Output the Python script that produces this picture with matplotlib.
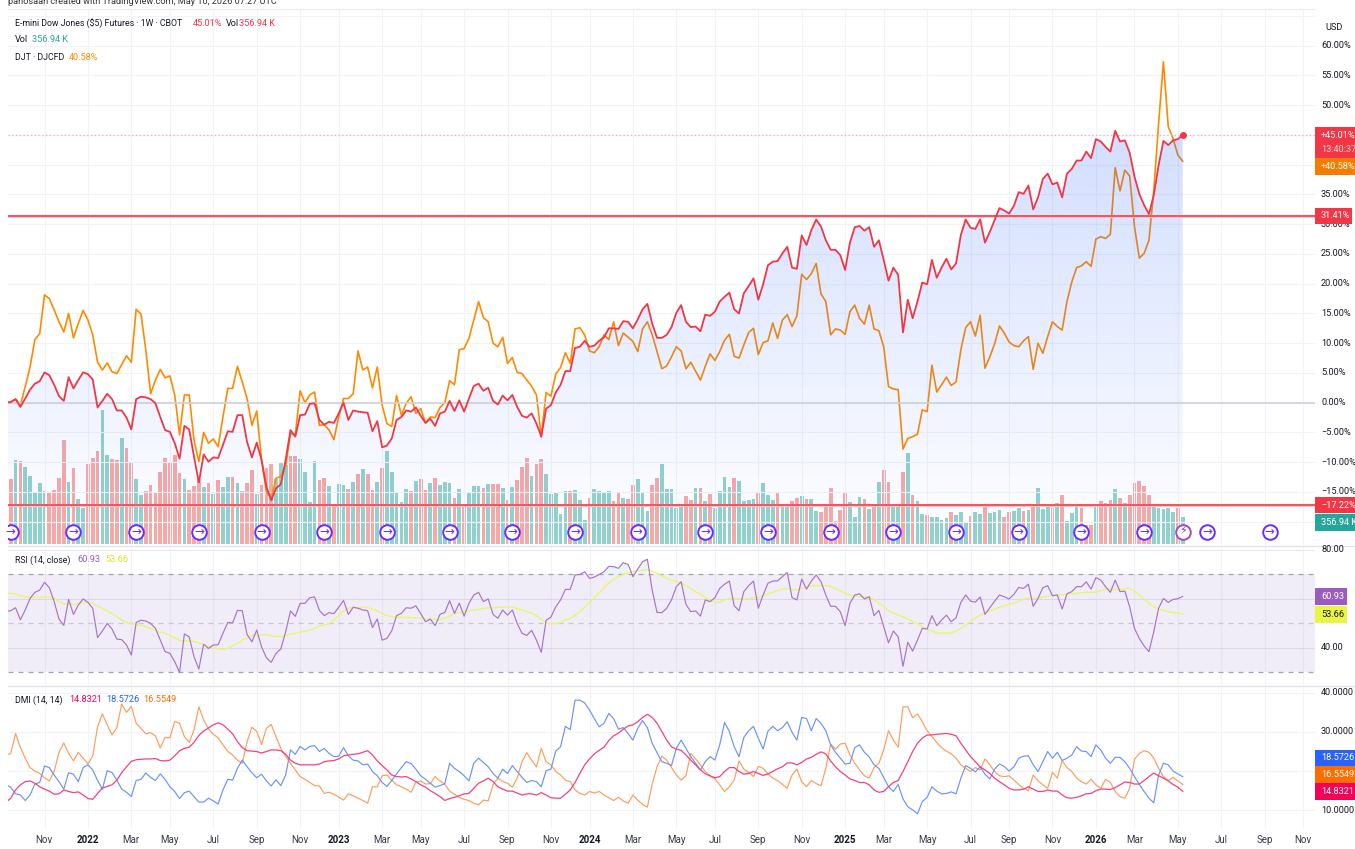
import numpy as np
import pandas as pd
import matplotlib
matplotlib.use("Agg")
import matplotlib.pyplot as plt
import matplotlib.dates as mdates
from matplotlib.patches import Rectangle
from matplotlib.lines import Line2D

plt.rcParams['font.family'] = ['Roboto', 'DejaVu Sans']

W, H = 1355, 849

# weekly closes in percent, first visible bar is the base
es_pct = [0.0,
    0.1,0.6,-0.7,0.7,2.2,3.2,3.6,5.1,4.6,3.0,1.1,0.3,4.3,2.4,3.8,5.1,4.8,3.9,-0.8,0.3,1.5,0.6,-1.3,-1.3,-2.5,-4.5,0.6,1.0,0.9,0.6,
    -0.1,-2.4,-4.6,-4.9,-6.8,-9.4,-3.9,-4.5,-9.1,-13.4,-8.7,-9.9,-9.2,-9.3,-7.1,-4.8,-4.9,-2.1,-2.1,-6.6,-9.2,-6.7,-9.6,-14.1,-16.4,-14.4,-13.7,-9.6,-4.6,-5.7,
    -2.1,-2.0,-0.2,-0.1,-2.9,-3.7,-3.2,-3.4,-1.8,0.0,-2.9,-1.3,-1.5,-1.6,-1.7,-4.8,-3.1,-7.5,-7.2,-6.0,-2.9,-2.4,-1.3,-1.5,-0.8,-2.2,-3.4,-2.7,-3.9,-1.8,-1.5,0.3,
    -1.4,0.4,-1.5,0.7,2.8,3.2,2.0,2.5,0.3,-0.3,1.2,0.4,1.3,-0.7,-2.2,-2.5,-1.8,-3.5,-5.7,-1.0,-0.4,1.7,3.0,5.3,5.3,9.2,9.4,10.4,9.4,9.6,10.4,11.0,12.5,12.5,12.4,13.7,
    13.6,12.5,14.0,15.7,16.6,13.3,10.9,10.9,11.4,12.7,15.1,16.4,13.6,12.7,12.8,12.0,14.8,14.6,15.3,17.0,17.8,18.5,15.7,15.0,18.4,19.6,20.9,17.3,19.9,23.1,23.7,23.8,
    25.1,26.2,22.7,22.5,28.1,26.5,29.0,30.8,29.6,27.3,25.7,25.7,24.8,22.3,26.9,29.5,29.7,28.9,29.5,26.2,27.3,24.0,20.5,22.7,21.5,
    11.8,17.3,14.2,17.0,20.2,19.9,24.0,21.0,22.7,24.2,22.4,23.4,28.2,30.8,29.4,29.2,30.8,26.9,28.7,30.7,32.7,32.3,31.8,33.1,35.4,35.1,36.5,32.5,34.5,37.6,38.5,36.7,37.0,34.5,
    38.5,39.3,40.7,40.7,42.2,41.1,44.3,43.9,43.0,42.2,45.7,43.9,44.1,42.0,38.0,35.1,33.2,31.7,34.9,39.9,44.0,43.3,44.1,44.3,45.01]

djt_pct = [0.0,
    0.1,0.6,-0.4,2.7,6.0,10.6,11.6,18.1,17.5,15.6,13.6,11.9,15.0,10.9,13.3,15.5,13.9,11.4,6.8,5.5,6.7,5.2,4.9,6.4,7.9,6.8,15.7,14.9,8.9,1.5,
    3.8,5.6,4.2,4.5,1.3,-5.4,1.3,1.3,-6.3,-9.9,-5.0,-6.8,-6.1,-7.4,-2.4,2.4,2.4,6.1,3.5,0.7,-3.8,-1.4,-9.6,-14.9,-16.1,-12.7,-12.4,-10.7,-5.2,-5.4,
    2.0,0.0,1.3,1.8,-3.8,-3.7,-4.6,-6.2,-2.4,0.7,0.7,1.5,8.7,5.5,6.0,2.5,6.0,-0.4,-3.5,-4.0,1.2,-2.1,-0.1,1.0,-1.8,-1.0,-3.4,-2.4,-2.5,-0.8,0.0,3.7,
    3.0,8.9,9.1,10.8,13.9,17.0,14.3,13.6,10.0,9.4,11.0,6.6,7.6,5.1,4.9,3.8,2.8,1.3,-5.7,1.7,1.1,4.8,5.9,8.4,6.6,12.4,12.6,11.4,8.7,8.4,9.4,11.4,10.6,13.6,9.6,11.7,
    11.0,10.3,8.6,12.4,13.6,11.4,8.6,5.7,6.2,7.7,9.4,8.7,5.7,6.8,5.3,3.8,6.1,8.2,7.1,8.6,10.5,11.5,7.8,7.5,9.7,11.8,12.5,8.1,10.1,10.4,13.4,10.8,13.9,14.8,12.8,14.6,
    21.6,20.7,21.7,23.4,18.3,17.0,11.4,12.4,12.2,11.5,15.3,16.4,14.2,13.2,16.4,12.4,12.1,9.4,2.7,2.3,2.2,
    -7.8,-6.0,-5.7,-5.3,-1.2,-1.5,6.3,1.8,3.0,4.3,2.9,3.5,8.9,12.6,13.6,11.2,14.7,5.8,7.7,9.9,12.9,11.7,10.2,9.6,9.4,10.4,11.1,5.6,10.0,8.3,11.1,13.6,12.8,12.2,
    17.0,20.3,22.7,23.0,23.7,22.9,27.5,27.9,27.6,28.3,39.5,35.6,39.1,38.1,29.6,24.3,25.1,27.3,35.7,46.9,57.3,46.4,44.4,41.6,40.58]

# volume in thousands, with r/g for the bar colour
volume_k = [800,
    858,1109,1091,1016,898,691,810,695,678,717,871,1377,823,1003,590,475,1056,1131,1223,1764,1170,1118,1109,1404,1272,1082,858,642,695,783,
    678,950,1131,1069,1170,942,858,717,770,858,757,810,656,845,757,884,884,810,695,810,977,656,783,1003,1056,858,1082,1043,1162,1162,
    1122,950,550,1096,845,871,770,488,796,783,730,823,924,990,924,708,823,1003,1223,950,669,550,730,695,836,858,708,810,871,783,823,810,
    607,726,515,673,761,761,739,788,788,788,739,585,748,849,1021,1135,902,1060,1122,928,660,682,400,695,695,713,585,321,607,726,695,669,695,572,682,607,
    594,783,862,682,440,783,876,1056,722,722,471,506,629,585,735,735,572,660,480,695,889,748,876,836,572,585,598,682,810,647,585,673,519,519,572,607,
    634,594,594,440,427,519,735,308,453,682,559,361,620,594,466,519,823,981,823,519,519,
    950,1201,647,568,400,387,361,361,321,348,427,387,427,282,374,427,400,510,414,427,453,361,427,440,480,440,453,506,735,466,493,480,541,647,
    299,414,506,480,255,255,506,568,541,581,722,607,541,647,810,836,761,647,506,480,466,480,427,480,356.94]

volume_dir = list("r"
    "rgrgggggrr" "rrgrggrrrg" "grrgrrggrr" "rrrrrrgrrr" "grgrggrgrr" "rgrrrgggrr" "ggggrrgrgg" "rgrgrrgrgg" "gggrgrrgrg" "gg"
    "rgrgggrg" "rrgrgrrrgr" "rgggggrggg" "rggggrrgrr" "gggrrggggg" "rrgrgrgggg" "rggggrgggr" "ggrrgrggrr" "rrrrgggrgr" "grrgg"
    "rgrgg" "rggggrgggr" "ggrgggrrgg" "rgrgggrgrg" "ggrrrgrrrg" "rgrrrrrggg" "ggrg")

rsi = [54.8,
    55.1,56.3,51.4,55.4,60.1,62.6,63.5,66.7,64.5,58.8,51.7,49.1,59.7,53.6,57.4,59.9,58.5,56.1,44.1,46.8,49.9,47.6,43.5,43.3,41.1,37.0,50.3,51.2,50.9,49.9,
    47.9,43.1,38.4,37.7,34.3,29.9,45.6,44.4,36.3,31.3,41.4,39.7,41.1,41.2,45.9,50.3,50.1,55.2,55.1,45.4,42.4,47.2,40.4,35.9,34.0,37.7,39.5,46.5,55.0,52.8,
    58.1,58.1,60.4,60.7,55.2,53.1,54.3,53.9,56.5,59.3,53.6,56.5,56.1,55.4,55.1,48.2,51.7,43.1,43.8,46.9,53.1,54.0,56.3,56.1,57.1,53.9,50.6,51.7,49.0,53.6,54.4,59.2,
    54.0,58.2,52.9,58.1,61.5,62.6,58.8,59.9,53.6,52.0,55.4,53.3,55.4,49.9,45.9,45.0,47.1,43.1,38.1,51.2,52.5,56.7,59.5,63.8,63.8,69.7,69.9,71.0,68.3,68.8,69.9,71.0,73.2,73.1,72.4,74.7,
    74.0,69.0,72.1,75.1,76.1,63.5,54.4,54.3,56.1,59.5,64.9,66.9,57.7,54.7,55.0,52.9,59.5,58.8,60.4,64.2,65.9,67.2,57.1,55.1,62.9,65.3,67.2,56.1,61.5,66.3,67.2,67.3,
    69.0,70.7,60.4,59.5,68.0,63.9,67.2,69.7,66.9,61.5,56.9,56.9,54.7,49.0,58.1,61.5,62.0,59.9,60.8,53.1,55.2,48.6,42.0,46.8,44.5,
    32.4,42.2,38.6,43.1,47.9,47.6,53.1,49.0,51.3,53.3,50.6,52.2,58.5,61.5,59.0,58.6,60.7,53.6,56.3,59.0,61.5,60.8,59.9,61.8,64.6,64.2,65.9,56.9,60.1,64.5,65.3,61.2,61.5,55.8,
    62.0,62.9,64.9,64.9,66.9,63.9,68.6,67.6,64.9,62.6,67.6,62.9,63.1,56.7,47.9,43.8,40.7,38.4,46.5,56.1,60.1,58.5,59.7,60.0,60.93]

rsi_ma = [62.2,
    62.2,62.0,61.2,60.8,60.5,60.5,60.5,60.7,60.7,60.1,58.8,58.0,57.7,57.7,58.0,58.4,58.6,58.1,57.0,56.1,55.0,53.9,52.7,51.3,50.3,49.8,49.4,49.1,48.6,47.9,
    47.1,46.3,45.9,45.0,44.1,42.9,42.7,42.7,42.6,42.0,41.2,40.5,40.1,39.5,39.2,39.7,40.7,41.8,43.0,44.2,44.9,45.0,45.2,45.3,44.9,44.6,44.6,44.9,45.6,45.9,
    46.4,46.7,47.1,47.9,48.8,49.3,49.8,51.3,53.1,55.1,56.1,56.5,56.3,56.5,56.3,55.8,55.0,53.9,53.1,52.7,52.4,52.4,52.4,52.2,52.2,52.1,51.7,51.6,51.4,51.4,52.0,52.9,
    54.0,54.3,54.6,55.0,55.4,55.6,56.1,56.2,56.3,56.5,56.6,56.6,56.5,55.9,55.4,54.7,54.1,53.1,51.6,50.3,49.8,49.8,50.3,51.2,52.0,53.1,54.7,56.6,58.5,60.4,62.4,64.5,66.5,67.9,69.0,69.9,
    70.5,71.0,71.4,71.7,71.8,71.2,70.3,69.4,68.4,67.6,67.1,66.5,65.4,64.1,62.9,61.8,60.4,59.3,58.5,58.6,59.5,60.1,60.1,60.0,59.9,60.1,60.4,60.5,61.2,62.0,62.6,63.3,
    63.9,64.1,63.8,63.7,64.1,64.8,65.2,65.3,65.4,65.4,64.9,64.2,63.3,62.2,61.5,61.1,60.8,60.7,60.7,59.7,58.1,56.9,55.1,54.1,53.3,
    52.7,51.7,50.7,49.8,48.4,47.6,46.8,46.1,45.9,45.9,46.1,46.8,47.9,49.1,50.9,52.0,53.3,54.1,55.0,55.8,56.5,57.1,57.7,58.2,59.0,59.9,60.4,60.1,60.3,60.7,61.0,61.4,61.6,61.5,
    61.8,61.9,62.2,62.4,62.6,62.6,62.7,63.3,63.9,63.8,63.8,63.8,64.1,64.2,63.1,61.5,59.7,58.1,56.7,55.9,55.2,54.7,54.3,54.1,53.66]

dmi_adx = [12.0,
    13.1,15.2,16.5,17.3,17.5,16.9,16.0,15.4,14.9,14.1,14.2,15.2,14.8,14.5,14.7,13.9,13.0,12.8,14.3,15.7,16.1,16.5,17.7,19.6,21.1,22.5,22.9,23.0,23.1,23.1,
    23.2,22.7,22.6,22.8,23.9,25.2,25.8,26.1,27.3,29.1,30.2,31.0,31.8,32.3,31.8,30.7,29.5,27.5,26.0,25.2,25.1,25.0,24.6,25.0,25.4,25.4,25.2,24.3,22.8,22.0,
    21.6,21.6,21.6,21.6,21.8,22.4,22.6,22.7,23.1,23.9,24.1,24.3,24.4,24.8,25.2,24.1,22.6,21.4,20.3,19.0,18.6,18.5,18.6,18.0,17.3,16.5,15.9,15.0,14.3,13.5,12.5,13.0,
    13.3,13.7,14.2,14.3,15.6,16.9,17.5,18.2,17.3,16.0,15.4,14.9,14.9,14.4,13.9,14.2,14.2,13.9,14.5,13.9,13.2,13.1,13.1,14.1,15.2,17.1,19.4,21.6,23.1,24.4,25.3,26.1,27.8,29.0,29.7,30.7,
    31.5,31.8,32.6,33.7,34.5,33.7,32.2,30.1,27.9,26.2,25.6,25.3,24.1,22.8,21.6,20.3,19.3,18.8,18.3,18.6,19.9,20.9,20.9,19.9,19.2,19.4,19.9,19.4,18.9,19.3,19.9,20.6,
    21.1,22.1,22.1,21.6,22.2,23.1,23.5,24.3,24.9,24.4,22.6,21.1,19.9,19.0,18.0,17.6,17.1,17.1,16.5,15.2,14.6,14.8,16.0,17.1,17.6,
    19.9,22.4,25.0,27.1,28.4,29.2,29.2,29.4,29.5,29.6,29.4,29.0,27.1,25.4,23.7,22.4,21.1,20.3,19.4,18.2,17.3,16.5,15.6,15.2,15.2,15.4,16.0,15.4,14.8,14.8,15.2,14.9,14.9,13.9,
    13.2,13.1,13.3,13.7,14.2,14.3,15.0,15.4,15.4,15.3,15.8,16.5,17.2,17.1,16.7,16.7,17.6,18.6,19.5,18.8,18.2,17.5,16.6,15.9,14.8321]

dmi_plus = [16.5,
    15.9,14.2,13.9,12.5,13.9,16.7,17.1,21.3,20.9,19.0,17.3,15.4,19.6,19.2,17.3,20.9,21.6,20.3,17.6,15.4,20.1,19.6,17.7,15.4,14.6,13.5,17.6,17.9,19.5,18.4,
    17.6,19.3,17.9,16.0,14.8,13.0,14.5,14.9,13.5,12.1,12.1,13.1,12.4,11.6,15.2,17.9,17.7,20.7,22.8,21.1,19.6,18.3,19.2,17.5,16.2,17.8,16.3,19.0,25.4,24.3,
    26.3,25.4,26.3,26.5,25.0,25.8,24.5,23.7,23.8,26.0,23.9,22.8,22.6,21.6,21.8,19.9,18.8,17.1,16.1,17.6,19.3,20.9,22.4,21.9,20.5,18.8,17.9,16.9,15.9,16.3,16.8,22.0,
    20.7,19.9,18.8,17.5,22.0,23.3,22.2,21.1,19.4,18.2,20.5,19.4,21.4,19.9,18.4,17.1,17.6,17.3,16.0,20.1,20.5,25.1,26.2,31.4,30.6,38.1,38.1,37.4,35.6,33.4,31.3,32.2,34.7,33.4,30.7,31.1,
    29.6,27.9,30.9,32.9,31.1,27.1,24.7,22.4,22.0,21.4,25.8,27.9,25.8,23.7,22.0,20.3,22.4,23.7,22.8,26.7,32.4,30.1,26.2,23.7,28.6,30.3,31.4,28.4,25.6,30.2,31.4,30.3,
    31.1,32.6,29.9,27.9,33.7,33.4,30.3,33.4,32.2,30.3,26.7,24.8,23.3,21.8,22.0,26.0,26.7,24.8,23.6,21.6,20.7,18.4,16.0,14.8,16.6,
    12.9,10.9,10.1,9.1,12.2,13.3,16.0,14.9,14.2,14.3,14.7,14.2,18.2,21.4,20.7,19.8,21.1,19.2,18.0,20.5,21.8,21.2,20.0,21.1,23.3,23.8,23.9,21.6,19.9,22.4,25.0,23.3,24.8,22.7,
    23.3,24.1,26.2,25.1,25.0,23.7,26.7,25.4,23.3,22.0,23.5,23.5,22.4,20.7,18.6,16.6,14.8,13.1,11.9,19.0,22.0,21.6,20.0,19.3,18.5726]

dmi_minus = [24.0,
    24.5,29.6,26.0,23.3,20.9,20.0,19.4,18.3,17.5,19.9,24.8,27.2,24.5,22.6,24.8,23.3,21.8,23.9,31.3,34.6,31.8,29.2,31.1,37.1,35.0,36.5,32.2,30.9,29.5,29.8,
    29.0,25.9,28.6,28.5,32.7,32.2,28.8,27.3,30.5,36.4,33.0,30.8,29.4,28.5,26.7,25.0,24.1,22.8,22.0,27.5,31.2,30.1,26.8,30.9,31.9,28.8,25.8,23.8,22.0,20.3,
    18.6,17.9,17.1,16.3,16.2,14.3,14.6,14.1,13.4,12.6,14.2,13.7,13.1,12.5,11.8,16.0,16.0,18.8,19.0,17.7,16.5,16.0,15.4,14.6,17.1,17.5,16.7,16.8,18.6,17.5,16.6,14.9,
    14.1,13.3,12.8,12.5,11.8,11.4,12.6,12.4,16.5,18.2,17.3,16.9,15.9,18.2,22.4,24.7,22.8,21.1,25.8,22.4,21.6,19.9,19.0,17.7,17.3,15.2,14.3,13.9,14.8,14.4,14.8,13.9,13.2,12.5,13.3,12.4,
    11.8,13.9,12.6,11.5,10.8,16.7,21.1,23.8,22.8,20.9,19.0,17.7,18.8,24.5,23.1,21.6,19.9,18.8,18.0,16.5,14.8,16.0,17.7,22.6,20.5,19.7,18.6,21.2,20.7,19.3,18.2,17.6,
    16.6,15.6,19.0,20.5,17.3,16.0,17.6,16.8,16.3,20.7,26.9,25.6,26.9,27.1,24.1,22.0,20.3,18.8,18.2,20.9,22.0,25.4,30.3,27.9,26.1,
    36.4,36.4,33.6,34.6,32.6,30.3,28.8,27.3,26.0,25.1,24.4,23.3,21.6,20.7,19.9,20.9,20.3,23.1,21.6,19.9,18.8,18.6,18.8,17.7,16.6,15.6,15.0,19.0,17.5,16.5,15.6,19.7,18.2,22.7,
    20.9,19.9,18.2,17.3,16.7,17.9,16.5,15.6,17.9,17.1,14.8,13.5,13.1,15.6,23.0,24.5,25.2,24.8,23.3,20.7,18.6,17.6,18.4,17.5,16.5549]

# quarterly contract rolls, as week numbers after the 2021-09-13 bar
roll_weeks = [0,13,26,39,52,65,78,91,104,117,130,144,157,170,183,196,209,222,235,248,261]

tick_dates = ["2021-11-01","2022-01-03","2022-03-07","2022-05-02","2022-07-04","2022-09-05","2022-11-07",
    "2023-01-02","2023-03-06","2023-05-01","2023-07-03","2023-09-04","2023-11-06","2024-01-01","2024-03-04",
    "2024-05-06","2024-07-01","2024-09-02","2024-11-04","2025-01-06","2025-03-03","2025-05-05","2025-07-07",
    "2025-09-01","2025-11-03","2026-01-05","2026-03-02","2026-05-04","2026-07-06","2026-09-07","2026-11-02"]
tick_labels = ["Nov","2022","Mar","May","Jul","Sep","Nov","2023","Mar","May","Jul","Sep","Nov","2024","Mar",
    "May","Jul","Sep","Nov","2025","Mar","May","Jul","Sep","Nov","2026","Mar","May","Jul","Sep","Nov"]

main_ticks = [60,55,50,35,30,25,20,15,10,5,0,-5,-10,-15]
rsi_ticks = [80,40]
dmi_ticks = [40,30,10]

dates = pd.date_range("2021-09-06", periods=len(es_pct), freq="7D")
ticks = pd.to_datetime(tick_dates)
x_left, x_right = pd.Timestamp("2021-09-09"), pd.Timestamp("2026-11-19")

TEAL, PINK, ORANGE = "#26a69a", "#f23645", "#f57c00"
GRID, TXT = "#f2f3f7", "#131722"
PURPLE, YELLOW = "#9c5bbf", "#e9f542"
D_PINK, D_BLUE, D_ORANGE = "#f50057", "#2962ff", "#ff6d00"
NUM = 6.6


def add_pane(top, bottom):
    a = fig.add_axes([8 / W, 1 - bottom / H, 1307 / W, (bottom - top) / H])
    for s in a.spines.values():
        s.set_visible(False)
    a.patch.set_alpha(0)
    a.set_xlim(x_left, x_right)
    a.set_xticks(ticks)
    a.set_xticklabels([])
    a.tick_params(length=0, labelleft=False, left=False)
    a.grid(axis="x", color=GRID, lw=0.8)
    a.set_axisbelow(True)
    return a


def label(x, y, s, color=TXT, size=NUM, ha="left", weight="normal", **kw):
    fig.text(x / W, 1 - y / H, s, color=color, fontsize=size, ha=ha, va="center", fontweight=weight, **kw)


def tag(y0, y1, s, color, x1=1355, tcolor="white"):
    fig.add_artist(Rectangle((1315 / W, 1 - y1 / H), (x1 - 1315) / W, (y1 - y0) / H,
                             transform=fig.transFigure, color=color, lw=0, zorder=5))
    if s:
        label(1321, (y0 + y1) / 2, s, color=tcolor, zorder=6)


fig = plt.figure(figsize=(W / 100, H / 100), dpi=100)

# main pane with volume behind it
ax_vol = add_pane(9, 545)
ax = add_pane(9, 545)
ax.set_zorder(ax_vol.get_zorder() + 1)
ax.set_ylim((402.7 - 545) / 5.95, (402.7 - 9) / 5.95)
ax.set_yticks(main_ticks + [65, 45, 40, -20])
ax.grid(axis="y", color=GRID, lw=0.8)
ax_vol.set_ylim(-13, 536 * 13.2 - 13)
ax_vol.grid(False)
ax_vol.bar(dates, volume_k, width=5.4,
           color=["#92d2cd" if d == "g" else "#f7a9a7" for d in volume_dir], zorder=2)

ax.plot(dates, djt_pct, color="#ff8a00", lw=1.2, zorder=2)

# blue gradient under the price line, on top of the orange one
grad = np.zeros((256, 1, 4))
grad[:, 0, 0], grad[:, 0, 1], grad[:, 0, 2] = 41 / 255, 98 / 255, 1.0
grad[:, 0, 3] = np.linspace(0.21, 0.0, 256)
y_lo, y_hi = ax.get_ylim()
x_num = mdates.date2num(dates)
im = ax.imshow(grad, aspect="auto", origin="upper", zorder=3,
               extent=[x_num[0], x_num[-1], y_lo, 46])
poly = ax.fill_between(dates, es_pct, y_lo, color="none", lw=0)
im.set_clip_path(poly.get_paths()[0], transform=ax.transData)
ax.set_xlim(x_left, x_right)
ax.set_ylim(y_lo, y_hi)

ax.axhline(0, color="#cfd0d9", lw=1.2, zorder=3)
ax.axhline(45.01, color="#f9a9af", lw=0.9, ls=(0, (1, 2)), zorder=3)
for lvl in [31.41, -17.22]:
    ax.axhline(lvl, color="#f9c3c7", lw=2.2, zorder=4)
    ax.axhline(lvl, color=PINK, lw=1.1, zorder=4)
ax.plot(dates, es_pct, color=PINK, lw=1.3, zorder=5)
ax.plot(dates[-1], es_pct[-1], "o", color=PINK, ms=4, zorder=6)

# roll and earnings markers along the bottom
start = dates[1]
for w in roll_weeks:
    d = start + pd.Timedelta(weeks=w)
    ax.plot(d, -21.65, "o", ms=10.5, mfc="white", mec="#6a2cff", mew=1.4, zorder=7)
    ax.text(d, -21.65, "→", color="#6a2cff", fontsize=8.5, ha="center", va="center",
            family="DejaVu Sans", zorder=8)
ax.plot(dates[-1], -21.65, "o", ms=10.5, mfc="white", mec="#ab47bc", mew=1.4, zorder=7)
ax.text(dates[-1], -21.65, "⚡", color="#9c27b0", fontsize=8, ha="center", va="center",
        family="DejaVu Sans", zorder=8)

# RSI pane
ax_rsi = add_pane(546, 685)
ax_rsi.set_ylim(40 - (685 - 647.7) / 2.45, 80 + (549.7 - 546) / 2.45)
ax_rsi.set_yticks([80, 60, 40])
ax_rsi.grid(axis="y", color="#e6e7f0", lw=0.8)
ax_rsi.axhspan(30, 70, color="#7e57c2", alpha=0.1, lw=0)
for lvl in [70, 50, 30]:
    ax_rsi.axhline(lvl, color="#8f919b", lw=0.9, ls=(0, (4, 4)), alpha=0.4 if lvl == 50 else 0.8)
rsi_arr = np.array(rsi)
ax_rsi.fill_between(dates, rsi_arr, 70, where=rsi_arr > 70, color=TEAL, alpha=0.1, lw=0)
ax_rsi.plot(dates, rsi_ma, color="#eaf56e", lw=1.0)
ax_rsi.plot(dates, rsi, color="#a873c9", lw=0.85)

# DMI pane
ax_dmi = add_pane(686, 828)
ax_dmi.set_ylim(10 - (828 - 810.3) / 3.92, 40 + (692.7 - 686) / 3.92)
ax_dmi.set_yticks([40, 30, 20, 10])
ax_dmi.grid(axis="y", color=GRID, lw=0.8)
ax_dmi.plot(dates, dmi_minus, color="#fb9d5c", lw=0.85)
ax_dmi.plot(dates, dmi_plus, color="#6b93f7", lw=0.85)
ax_dmi.plot(dates, dmi_adx, color="#f5417f", lw=0.9)

# pane separators
for y, c in [(9, "#eeeff3"), (545.5, "#e3e5ee"), (685.5, "#e3e5ee")]:
    fig.add_artist(Line2D([8 / W, 1 if y > 9 else 1315 / W], [1 - y / H, 1 - y / H],
                          transform=fig.transFigure, color=c, lw=1.0))

# legends
label(8, 1, "panosaah created with TradingView.com, May 10, 2026 07:27 UTC", color="#333333")
label(15, 24, "E-mini Dow Jones ($5) Futures · 1W · CBOT", size=6.3)
label(193, 24, "45.01%", color=PINK)
label(226, 24, "Vol")
label(239, 24, "356.94 K", color=PINK)
label(15, 40, "Vol")
label(32, 40, "356.94 K", color=TEAL)
label(15, 57, "DJT · DJCFD", size=6.3)
label(69, 57, "40.58%", color="#ff8a00")
label(15, 560, "RSI (14, close)", size=6.3)
label(77, 560, "60.93", color=PURPLE)
label(105, 560, "53.66", color="#d8e52a")
label(15, 700, "DMI (14, 14)", size=6.3)
label(69, 700, "14.8321", color=D_PINK)
label(106, 700, "18.5726", color=D_BLUE)
label(143, 700, "16.5549", color=D_ORANGE)

# right scale
label(1325, 27, "USD")
for v in main_ticks:
    s = f"{v:.2f}%".replace("-", "−")
    label(1321, 402.7 - v * 5.95, s)
for v in rsi_ticks:
    label(1321, 647.7 - (v - 40) * 2.45, f"{v:.2f}")
for v in dmi_ticks:
    label(1321, 810.3 - (v - 10) * 3.92, f"{v:.4f}")

tag(127, 158, "", PINK)
label(1321, 136, "+45.01%", color="white", zorder=6)
label(1321, 150, "13:40:37", color="#ffd5d8", zorder=6)
tag(158, 175, "+40.58%", ORANGE)
tag(208, 224, "31.41%", PINK, x1=1352)
tag(497, 513, "−17.22%", PINK)
tag(514, 531, "356.94 K", TEAL)
tag(588, 605, "60.93", PURPLE, x1=1347)
tag(606, 623, "53.66", YELLOW, x1=1347, tcolor=TXT)
tag(750, 766, "18.5726", D_BLUE)
tag(766, 783, "16.5549", D_ORANGE)
tag(783, 800, "14.8321", D_PINK)

# time axis
to_px = lambda d: 10.5 + (d - pd.Timestamp("2021-09-13")).days * 4.824 / 7
for d, s in zip(ticks, tick_labels):
    bold = s.isdigit()
    label(to_px(d), 840, s, ha="center", weight="bold" if bold else "normal", size=7.0,
          color="#131722" if bold else "#363a45")

fig.savefig("out.png", dpi=100)
